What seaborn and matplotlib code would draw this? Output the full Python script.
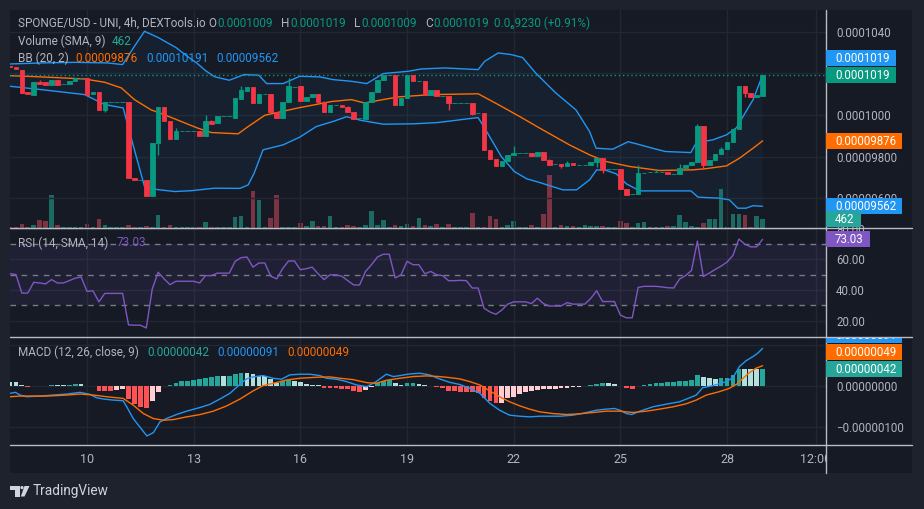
# %%
import numpy as np
import seaborn as sns
import matplotlib.pyplot as plt
from matplotlib.patches import Rectangle, Polygon, Circle

# 4h bars, index 0 = day 10 00:00; prices in units of 1e-8 USD
bars = np.arange(-13, 115)

opens = [
    10236, 10232, 10218, 10112, 10098, 10160, 10160, 10146, 10170, 10148,
    10151, 10165, 10179, 10179, 10102, 10112, 10025, 10063, 10063, 10063,
    10063, 9697, 9687, 9687, 9613, 9865, 10038, 9973, 9886, 9924,
    9924, 9924, 9924, 9900, 9973, 9964, 9993, 9993, 9988, 10078,
    10117, 10133, 10058, 10102, 10102, 10013, 9988, 10063, 10136, 10138,
    10069, 10086, 10102, 10063, 10013, 10047, 10050, 10038, 10013, 9985,
    9982, 10061, 10109, 10170, 10194, 10194, 10047, 10080, 10191, 10162,
    10165, 10098, 10122, 10093, 10093, 10058, 10058, 10058, 10058, 10009,
    10009, 9833, 9790, 9755, 9780, 9809, 9817, 9817, 9817, 9804,
    9823, 9782, 9764, 9764, 9756, 9772, 9758, 9758, 9758, 9774,
    9796, 9740, 9740, 9740, 9644, 9622, 9620, 9724, 9726, 9726,
    9726, 9726, 9718, 9718, 9745, 9761, 9777, 9949, 9758, 9785,
    9812, 9838, 9870, 9933, 10138, 10107, 10086, 10090]
highs = [
    10236, 10232, 10218, 10112, 10160, 10170, 10160, 10170, 10170, 10148,
    10165, 10179, 10179, 10179, 10112, 10112, 10063, 10063, 10063, 10063,
    10063, 9697, 9687, 9687, 9865, 10038, 10038, 9973, 9939, 9924,
    9924, 9924, 9924, 10001, 9975, 9993, 9993, 9993, 10083, 10138,
    10133, 10133, 10102, 10102, 10102, 10013, 10063, 10179, 10136, 10138,
    10088, 10102, 10102, 10069, 10050, 10047, 10050, 10045, 10013, 9985,
    10061, 10109, 10170, 10194, 10194, 10194, 10083, 10191, 10191, 10162,
    10165, 10122, 10122, 10093, 10093, 10058, 10058, 10058, 10058, 10009,
    10009, 9833, 9790, 9780, 9809, 9852, 9817, 9817, 9817, 9823,
    9823, 9790, 9764, 9764, 9780, 9772, 9758, 9758, 9774, 9796,
    9796, 9740, 9740, 9740, 9644, 9622, 9758, 9724, 9726, 9740,
    9726, 9726, 9718, 9766, 9761, 9777, 9958, 9949, 9785, 9812,
    9845, 9870, 9933, 10138, 10138, 10107, 10098, 10190]
lows = [
    10230, 10223, 10107, 10102, 10098, 10151, 10146, 10146, 10146, 10148,
    10151, 10165, 10179, 10098, 10102, 10025, 10013, 10063, 10063, 10063,
    9697, 9687, 9687, 9613, 9613, 9806, 9973, 9886, 9886, 9924,
    9924, 9924, 9900, 9900, 9958, 9964, 9993, 9993, 9988, 10078,
    10117, 10058, 10058, 10102, 10013, 9988, 9988, 10063, 10136, 10069,
    10069, 10086, 10063, 10013, 10013, 10047, 10038, 10013, 9982, 9985,
    9982, 10061, 10109, 10170, 10194, 10047, 10047, 10080, 10162, 10162,
    10098, 10098, 10090, 10093, 10025, 10058, 10058, 10058, 10001, 10009,
    9833, 9790, 9755, 9755, 9780, 9809, 9817, 9817, 9804, 9804,
    9782, 9761, 9764, 9745, 9756, 9758, 9758, 9758, 9758, 9750,
    9724, 9740, 9740, 9644, 9617, 9622, 9620, 9724, 9726, 9726,
    9726, 9718, 9718, 9718, 9745, 9761, 9777, 9740, 9758, 9785,
    9812, 9838, 9870, 9933, 10088, 10086, 10086, 10090]
closes = [
    10230, 10223, 10107, 10102, 10160, 10151, 10146, 10170, 10146, 10148,
    10165, 10179, 10179, 10098, 10112, 10025, 10063, 10063, 10063, 10063,
    9697, 9687, 9687, 9613, 9865, 10038, 9973, 9886, 9924, 9924,
    9924, 9924, 9900, 9973, 9958, 9993, 9993, 9993, 10083, 10122,
    10133, 10058, 10102, 10102, 10013, 9988, 10063, 10138, 10136, 10069,
    10088, 10102, 10063, 10013, 10050, 10047, 10038, 10013, 9982, 9985,
    10061, 10109, 10170, 10194, 10194, 10047, 10083, 10191, 10162, 10162,
    10098, 10122, 10090, 10093, 10058, 10058, 10058, 10058, 10006, 10009,
    9833, 9790, 9755, 9780, 9809, 9817, 9817, 9817, 9804, 9823,
    9782, 9761, 9764, 9756, 9772, 9758, 9758, 9758, 9774, 9796,
    9737, 9740, 9740, 9644, 9617, 9622, 9721, 9724, 9726, 9728,
    9726, 9718, 9718, 9745, 9761, 9777, 9949, 9758, 9785, 9812,
    9838, 9870, 9933, 10138, 10107, 10086, 10098, 10190]
volume = [
    51, 51, 220, 51, 138, 423, 342, 1668, 168, 51,
    51, 51, 51, 220, 51, 444, 138, 51, 51, 51,
    138, 51, 51, 102, 51, 648, 51, 138, 51, 51,
    51, 51, 51, 291, 51, 51, 51, 51, 561, 597,
    51, 1923, 1413, 51, 510, 1668, 51, 51, 51, 240,
    87, 342, 87, 87, 597, 51, 51, 168, 87, 51,
    138, 852, 138, 393, 51, 153, 87, 194, 92, 500,
    143, 92, 194, 51, 194, 51, 51, 51, 755, 51,
    51, 597, 444, 51, 153, 342, 51, 51, 168, 51,
    699, 2718, 51, 138, 102, 102, 51, 168, 102, 102,
    102, 51, 51, 342, 240, 51, 240, 291, 51, 51,
    51, 128, 128, 648, 332, 102, 51, 245, 444, 444,
    1979, 51, 740, 704, 648, 51, 597, 462]
rsi = [
    50.6, 50.1, 38.0, 38.0, 45.0, 44.6, 44.0, 46.8, 44.6, 44.6,
    46.1, 47.7, 48.5, 39.1, 39.5, 32.3, 37.8, 37.8, 37.8, 37.8,
    17.3, 17.1, 17.1, 15.3, 40.6, 51.6, 47.3, 43.5, 45.7, 45.7,
    45.7, 45.7, 44.6, 49.4, 49.4, 51.0, 51.0, 51.0, 58.7, 61.1,
    61.5, 54.9, 57.6, 57.6, 49.0, 47.3, 53.9, 58.9, 58.9, 53.2,
    53.9, 54.9, 50.6, 46.8, 49.9, 49.9, 49.0, 46.1, 43.3, 43.3,
    52.1, 56.5, 61.5, 63.3, 63.3, 47.9, 49.9, 58.7, 56.5, 56.5,
    50.6, 52.1, 49.9, 49.4, 46.1, 46.1, 46.3, 46.1, 41.3, 41.3,
    28.1, 25.7, 24.2, 27.0, 30.8, 32.3, 32.3, 32.3, 31.2, 34.7,
    31.2, 29.6, 29.6, 29.6, 31.8, 30.8, 30.8, 30.8, 34.5, 39.5,
    32.5, 32.5, 32.5, 23.7, 21.9, 21.9, 41.7, 42.4, 42.4, 42.4,
    42.0, 41.5, 41.3, 47.2, 49.4, 52.7, 71.9, 48.8, 51.0, 53.4,
    55.6, 58.2, 62.6, 73.2, 69.9, 68.1, 68.1, 73.03]
# MACD values in units of 1e-8
macd_hist = [
    10, 9, 2, -2, -1, 1, 1, 2, 2, 2,
    3, 5, 5, 1, 1, -11, -12, -13, -9, -8,
    -32, -44, -50, -53, -36, -14, 1, 2, 8, 12,
    13, 15, 16, 19, 21, 23, 23, 24, 29, 32,
    32, 29, 25, 25, 16, 8, 11, 14, 13, 9,
    6, 3, 2, -4, -5, -6, -7, -8, -12, -14,
    -9, -3, 8, 12, 15, 7, 3, 7, 8, 5,
    2, 1, -3, -6, -11, -12, -14, -15, -15.5, -16,
    -30, -37, -41, -40, -30, -26, -20, -14, -11, -10,
    -8, -8, -7, -6, -4, -2, -2, -1, 2, 4,
    7, 7, 6, 1, -4, -7, -1, 3, 5, 7,
    8, 9, 10, 11, 13, 15, 27, 21, 19, 18,
    19, 20, 27, 42, 41, 41, 40, 42]

macd_k = [-13.0, -12.1, -11.3, -10.2, -7.9, -5.7, -3.4, -1.2, 0.5, 1.6, 2.8, 4.4, 6.1, 6.7,
          7.8, 8.9, 10.1, 11.2, 12.3, 13.4, 15.1, 16.8, 19.1, 20.7, 22.4, 24.1, 25.8, 26.9,
          28.0, 29.7, 31.4, 32.8, 34.2, 35.9, 37.6, 39.3, 40.4, 42.1, 43.8, 45.5, 47.2, 48.8,
          50.5, 51.7, 52.8, 54.5, 56.2, 57.8, 59.5, 61.2, 62.9, 64.6, 66.3, 68.0, 69.6, 71.3,
          73.0, 74.7, 76.4, 78.1, 79.8, 82.0, 84.3, 86.0, 87.6, 89.0, 89.9, 91.0, 91.9, 93.3,
          95.5, 97.8, 100.0, 101.7, 102.8, 103.9, 105.6, 107.9, 109.0, 110.1, 111.2, 112.4,
          113.2, 114.0]
macd_line = [-17.9, -15.4, -22, -26, -24.4, -22, -19.5, -15.4, -20.3, -28.5, -31.7, -34.1, -35.8, -50.4,
             -78.9, -99.2, -121, -113, -87, -78.9, -69.1, -61, -52, -44.7, -31.7, -17.9, 4.1, 17.1,
             22, 25.2, 18.7, 16.3, 26.8, 28.5, 28.5, 25.2, 18.7, 16.3, 10.6, 2.4, -1.6, 10.6,
             28.5, 22.8, 25.2, 29.3, 30.9, 26.8, 17.1, 8.9, 3.6, -5.7, -17.9, -42.3, -58.5, -70.7,
             -73.2, -74.8, -73.2, -73.2, -73.2, -70.7, -64.2, -58.5, -56.1, -54.5, -58.5, -66.7, -69.1, -61,
             -50.4, -43.9, -38.2, -28.5, -22, -4.1, 0.8, 10.6, 20.3, 47.2, 61, 71.5,
             79.7, 91]
signal_k = [-13.0, -11.3, -9.1, -6.8, -3.4, -1.2, 1.1, 3.3, 6.1, 7.8, 9.5, 11.2, 12.9, 14.6, 16.8,
            19.1, 21.3, 23.6, 25.8, 28.0, 29.7, 31.4, 33.7, 35.9, 38.7, 41.0, 42.7, 44.9, 47.2,
            48.8, 50.5, 52.8, 55.0, 57.3, 59.5, 61.2, 62.9, 64.6, 66.3, 68.0, 69.6, 71.3, 73.0,
            74.7, 76.4, 78.6, 80.9, 83.1, 85.4, 87.6, 89.9, 92.1, 94.4, 96.6, 98.9, 101.1, 102.8,
            104.5, 106.7, 108.4, 109.6, 110.7, 111.8, 112.9, 114.0]
signal_line = [-26, -24.4, -24.4, -24.4, -22, -19.5, -22, -26, -30.1, -46.3, -66.7, -78.9, -82.9, -81.3, -74.8,
               -69.1, -61, -48, -31.7, -12.2, 0.8, 6.5, 14.6, 18.7, 21.1, 22, 18.7, 15.4, 8.1,
               6.5, 13.8, 18.7, 22.8, 24.4, 22.8, 20.3, 17.1, 10.6, 2.4, -12.2, -26, -38.2, -48,
               -56.1, -62.6, -66.7, -69.1, -67.5, -64.2, -61, -61, -64.2, -61, -56.1, -50.4, -43.1, -34.1,
               -22, -13.8, -5.7, 4.1, 18.7, 32.5, 43.1, 49]

# Bollinger bands (20, 2)
bb_up_k = [-13, -7.7, -2, 3.5, 6, 8, 9.7, 12, 15, 17, 18.5, 20, 21.5, 24, 26.5, 29, 30.3, 33.1,
           35.9, 39.3, 41.5, 44.6, 47.2, 50, 54.2, 56.4, 60.4, 66, 67.1, 69.4, 71.6, 73.5, 75.7,
           79.1, 82.5, 84.8, 85.9, 88.7, 91.3, 92.7, 95.4, 97.6, 101.9, 102.8, 105.6, 107.9,
           109.6, 110.7, 112.4, 114]
bb_up = [10245, 10250, 10253, 10250, 10242, 10330, 10402, 10372, 10324, 10280, 10250, 10213, 10184,
         10167, 10194, 10191, 10151, 10151, 10186, 10183, 10170, 10162, 10151, 10199, 10210, 10221,
         10226, 10218, 10258, 10298, 10290, 10276, 10202, 10106, 10025, 9921, 9841, 9836, 9872,
         9862, 9841, 9825, 9820, 9867, 9881, 9905, 9939, 9993, 10074, 10191]
bb_mid_k = [-13, -7.7, -0.4, 3, 5.8, 8, 10.8, 13.1, 15.9, 18.7, 21, 25.5, 27.2, 30, 35.6, 41.3,
            44.6, 46.8, 52.5, 58.1, 66, 69.4, 73, 76.4, 81.4, 84.8, 87.6, 91.6, 96.6, 102.3,
            104.5, 107.9, 110.1, 112.4, 114]
bb_mid = [10189, 10183, 10173, 10157, 10130, 10074, 10025, 10001, 9969, 9937, 9916, 9910, 9945,
          9999, 10034, 10065, 10074, 10058, 10087, 10098, 10102, 10050, 9993, 9937, 9857, 9809,
          9777, 9753, 9734, 9737, 9743, 9756, 9793, 9841, 9876]
bb_low_k = [-13, -7.7, -0.4, 3, 6.1, 8, 9.7, 11.4, 14.8, 17.6, 21.5, 25.8, 27.2, 28.2, 29.7, 33.1,
            35.9, 38.7, 41.5, 43.8, 46.3, 50, 55.3, 59.2, 66, 67.6, 69.9, 72.1, 74.2, 76.4, 80.3,
            82.6, 84.8, 86, 87.6, 89.3, 91, 93.3, 101.9, 103.1, 106.7, 108.4, 109.8, 111.2,
            112.4, 114]
bb_low = [10138, 10122, 10098, 10050, 10034, 9833, 9657, 9644, 9633, 9637, 9649, 9648, 9665, 9721,
          9833, 9857, 9894, 9945, 9969, 9992, 9974, 9956, 9958, 9964, 9988, 9913, 9801, 9729, 9694,
          9676, 9641, 9641, 9689, 9737, 9734, 9718, 9670, 9636, 9636, 9606, 9601, 9593, 9553,
          9553, 9565, 9562]

day_ticks = [0, 18, 36, 54, 72, 90, 108, 123]
day_labels = ["10", "13", "16", "19", "22", "25", "28", "12:00"]
price_grid = [9600, 9800, 10000, 10200, 10400]
price_labels = ["0.00009600", "0.00009800", "0.0001000", "", "0.0001040"]
rsi_grid = [20, 40, 60, 80]
rsi_labels = ["20.00", "40.00", "60.00", "80.00"]
macd_grid = [-100, 0, 100]
macd_labels = ["\u22120.00000100", "0.00000000", ""]

# %%
UP, DOWN = "#089981", "#f23645"
BLUE, ORANGE, PURPLE, TEAL = "#2196f3", "#ff6d00", "#7e57c2", "#26a69a"
TXT, BG, OUTER, GRID, SEP = "#b2b5be", "#161a25", "#1e222d", "#232732", "#b9bcc4"

sns.set_theme(style="dark", rc={"axes.facecolor": "none", "figure.facecolor": OUTER,
                                "axes.edgecolor": "none", "xtick.color": TXT, "ytick.color": TXT})
plt.rcParams["font.family"] = ["Roboto", "DejaVu Sans"]

W, H = 924, 509
fig = plt.figure(figsize=(W / 100, H / 100), dpi=100)
renderer = fig.canvas.get_renderer()

back = fig.add_axes([0, 0, 1, 1], zorder=-1)
back.set_xlim(0, W); back.set_ylim(H, 0); back.axis("off")
back.add_patch(Rectangle((10, 10), 902, 463, color=BG, lw=0))


def pane(top, bottom, ylim, ticks, labels):
    ax = fig.add_axes([10 / W, 1 - bottom / H, 816 / W, (bottom - top) / H])
    ax.set_xlim(-13.0, 124.7)
    ax.set_ylim(*ylim)
    ax.set_xticks(day_ticks)
    ax.set_yticks(ticks)
    ax.yaxis.tick_right()
    ax.set_yticklabels(labels)
    ax.tick_params(length=0, labelbottom=False, labelleft=False, labelright=True,
                   pad=7.3, labelsize=8.3, labelcolor=TXT)
    ax.grid(True, color=GRID, lw=1)
    ax.set_axisbelow(True)
    return ax


ax_p = pane(10, 228, (9458, 10504), price_grid, price_labels)
ax_r = pane(228, 337, (9.4, 80.4), rsi_grid, rsi_labels)
ax_m = pane(337, 445, (-142.9, 118.6), macd_grid, macd_labels)

# volume behind the candles
ax_v = ax_p.twinx()
ax_v.set_zorder(-0.5)
ax_v.set_ylim(0, 11180)
ax_v.set_axis_off()
ax_p.yaxis.tick_right()
ax_p.tick_params(length=0, labelleft=False, labelright=True)

o, c = np.array(opens), np.array(closes)
rising = c >= o
ccol = np.where(rising, UP, DOWN)
ax_v.bar(bars, volume, width=0.78, color=np.where(rising, "#1d6a64", "#7c3342"), lw=0)

# bollinger bands
ax_p.fill(np.r_[bb_up_k, bb_low_k[::-1]], np.r_[bb_up, bb_low[::-1]], color=BLUE, alpha=0.05, lw=0)
for xs, ys, col in [(bb_up_k, bb_up, BLUE), (bb_low_k, bb_low, BLUE), (bb_mid_k, bb_mid, ORANGE)]:
    sns.lineplot(x=xs, y=ys, ax=ax_p, color=col, lw=1.0, estimator=None, sort=False, legend=False)

# candles
ax_p.vlines(bars, lows, highs, colors=ccol, lw=1, zorder=3)
ax_p.bar(bars, np.abs(c - o), bottom=np.minimum(o, c), width=0.78, color=ccol,
         edgecolor=ccol, linewidth=0.6, zorder=4)
ax_p.axhline(closes[-1], color=UP, lw=1, ls=(0, (1, 2)), zorder=2)

# RSI
ax_r.axhspan(30, 70, color=PURPLE, alpha=0.1, lw=0)
for lvl in (70, 50, 30):
    ax_r.axhline(lvl, color="#787b86", lw=1, ls=(0, (4, 4)))
sns.lineplot(x=bars, y=rsi, ax=ax_r, color=PURPLE, lw=1.0, estimator=None, legend=False)

# MACD
h = np.array(macd_hist, dtype=float)
prev = np.r_[h[0], h[:-1]]
hcol = np.where(h >= 0, np.where(h > prev, "#26a69a", "#b2dfdb"),
                np.where(h < prev, "#ff5252", "#ffcdd2"))
ax_m.bar(bars, h, width=0.8, color=hcol, lw=0)
sns.lineplot(x=macd_k, y=macd_line, ax=ax_m, color=BLUE, lw=1.0, estimator=None, sort=False, legend=False)
sns.lineplot(x=signal_k, y=signal_line, ax=ax_m, color=ORANGE, lw=1.0, estimator=None, sort=False, legend=False)
ax_m.set_xticklabels(day_labels)
ax_m.tick_params(axis="x", labelbottom=True, pad=6, labelsize=9, labelcolor=TXT)

for ax in (ax_p, ax_r, ax_m):
    ax.set_xlabel("")
    ax.set_ylabel("")

# %%
# overlay in pixel coordinates: legends, price-scale badges, separators, logo
fg = fig.add_axes([0, 0, 1, 1], zorder=5)
fg.set_xlim(0, W); fg.set_ylim(H, 0); fg.axis("off")
fg.add_patch(Rectangle((827, 446), 85, 26, color=BG, lw=0, zorder=1))


def text_row(py, parts, px=18):
    for label, color, gap in parts:
        t = fg.text(px, py, label, color=color, fontsize=8.5, va="center", ha="left", zorder=8)
        px += t.get_window_extent(renderer).width + gap


def badge(ax, value, label, color, top, bottom, above=None):
    py = H - ax.transData.transform((0, value))[1]
    if above is not None:
        py = min(py, above - 17)
    clip = Rectangle((0, top), W, bottom - top, transform=fg.transData)
    t = fg.text(835, py + 0.5, label, color="white", fontsize=8.3, va="center", ha="left", zorder=6)
    w = t.get_window_extent(renderer).width
    r = Rectangle((826, py - 8), w + 15, 16, color=color, lw=0, zorder=5)
    fg.add_patch(r)
    for a in (t, r):
        a.set_clip_path(clip)
        a.set_clip_on(True)
    return py


text_row(23, [("SPONGE/USD - UNI, 4h, DEXTools.io", TXT, 3), ("O", TXT, 1), ("0.0001009", UP, 8),
              ("H", TXT, 1), ("0.0001019", UP, 8), ("L", TXT, 1), ("0.0001009", UP, 8),
              ("C", TXT, 1), ("0.0001019", UP, 5), ("0.0\u20869230 (+0.91%)", UP, 0)])
text_row(41, [("Volume (SMA, 9)", TXT, 6), ("462", "#22ab94", 0)])
text_row(58, [("BB (20, 2)", TXT, 7), ("0.00009876", ORANGE, 8), ("0.00010191", BLUE, 8),
              ("0.00009562", BLUE, 0)])
text_row(243, [("RSI (14, SMA, 14)", TXT, 8), ("73.03", PURPLE, 0)])
text_row(352, [("MACD (12, 26, close, 9)", TXT, 8), ("0.00000042", TEAL, 8),
               ("0.00000091", BLUE, 8), ("0.00000049", ORANGE, 0)])

y_close = badge(ax_p, closes[-1], "0.0001019", UP, 10, 228)
badge(ax_p, bb_up[-1], "0.0001019", BLUE, 10, 228, above=y_close)
badge(ax_p, bb_mid[-1], "0.00009876", ORANGE, 10, 228)
badge(ax_p, bb_low[-1], "0.00009562", BLUE, 10, 228)
badge(ax_v, volume[-1], "462", TEAL, 10, 228)
badge(ax_r, rsi[-1], "73.03", PURPLE, 228, 337)
y_hist = badge(ax_m, macd_hist[-1], "0.00000042", TEAL, 337, 445)
y_sig = badge(ax_m, signal_line[-1], "0.00000049", ORANGE, 337, 445, above=y_hist)
badge(ax_m, macd_line[-1], "0.00000091", BLUE, 337, 445, above=y_sig)

fg.plot([826, 826], [10, 473], color=SEP, lw=1, zorder=4)
for py in (228, 337, 445):
    fg.plot([10, 912], [py, py], color=SEP, lw=1, zorder=7)

# TradingView logo
LOGO = "#d1d4dc"
fg.add_patch(Polygon([(10, 486), (20, 486), (20, 496.5), (15, 496.5), (15, 489.5), (10, 489.5)],
                     color=LOGO, lw=0))
fg.add_patch(Circle((22, 487.6), 1.6, color=LOGO, lw=0))
fg.add_patch(Polygon([(24.5, 486), (29.5, 486), (24.5, 496.5), (20.8, 496.5)], color=LOGO, lw=0))
fg.text(33, 491.5, "TradingView", color=LOGO, fontsize=9.8, va="center", ha="left")

fig.savefig("out.png", dpi=100, facecolor=OUTER)
